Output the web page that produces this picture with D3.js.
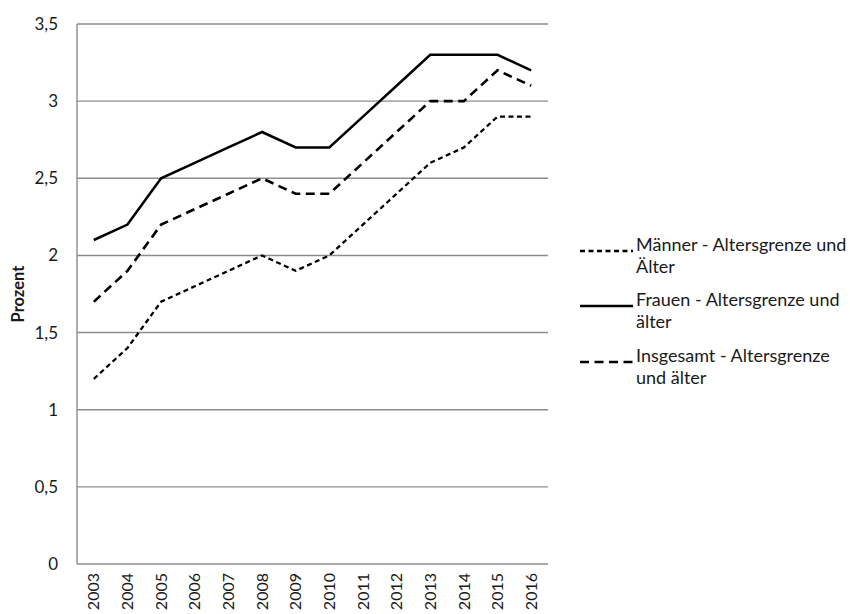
<!DOCTYPE html>
<html><head><meta charset="utf-8">
<script src="https://cdn.jsdelivr.net/npm/d3@7"></script>
<style>body{margin:0;background:#fff}svg{display:block}text{font-family:Lato,"Open Sans",sans-serif}</style>
</head><body><svg id="c" width="850" height="614"></svg>
<script>
const years = ["2003","2004","2005","2006","2007","2008","2009","2010","2011","2012","2013","2014","2015","2016"];
const maenner = [1.2,1.4,1.7,1.8,1.9,2.0,1.9,2.0,2.2,2.4,2.6,2.7,2.9,2.9];
const frauen = [2.1,2.2,2.5,2.6,2.7,2.8,2.7,2.7,2.9,3.1,3.3,3.3,3.3,3.2];
const insgesamt = [1.7,1.9,2.2,2.3,2.4,2.5,2.4,2.4,2.6,2.8,3.0,3.0,3.2,3.1];
const yTicks = [0,0.5,1,1.5,2,2.5,3,3.5];
const yTickLabels = ["0","0,5","1","1,5","2","2,5","3","3,5"];
const seriesNames = [["Männer - Altersgrenze und","Älter"],["Frauen - Altersgrenze und","älter"],["Insgesamt  - Altersgrenze","und älter"]];

const svg = d3.select("#c");
const L=77,R=548,T=24,B=564;
const x = d3.scaleBand().domain(years).range([L,R]);
const y = d3.scaleLinear().domain([0,3.5]).range([B,T]);
const grid="#8c8c8c";

svg.append("g").selectAll("line").data(yTicks).join("line")
  .attr("x1",L).attr("x2",R).attr("y1",d=>y(d)).attr("y2",d=>y(d))
  .attr("stroke",grid).attr("stroke-width",1.4);
svg.append("line").attr("x1",L).attr("x2",L).attr("y1",T).attr("y2",B).attr("stroke",grid).attr("stroke-width",1.4);

svg.append("g").selectAll("text").data(yTicks).join("text")
  .attr("x",58).attr("y",d=>y(d)).attr("dy","0.35em").attr("text-anchor","end")
  .attr("font-size",17).attr("fill","#1a1a1a").text((d,i)=>yTickLabels[i]);

svg.append("g").selectAll("text").data(years).join("text")
  .attr("transform",d=>`translate(${x(d)+x.bandwidth()/2},${B+9}) rotate(-90)`)
  .attr("dy","0.35em").attr("text-anchor","end").attr("font-size",16).attr("fill","#1a1a1a").text(d=>d);

svg.append("text").attr("transform","translate(18,294) rotate(-90)").attr("text-anchor","middle")
  .attr("dy","0.35em").attr("font-size",16.5).attr("font-weight","bold").attr("fill","#1a1a1a").text("Prozent");

const styles=[{w:2.3,dash:"5,3.5"},{w:2.5,dash:null},{w:2.6,dash:"9,5.5"}];
const data=[maenner,frauen,insgesamt];
const line=d3.line().x((d,i)=>x(years[i])+x.bandwidth()/2).y(d=>y(d));
data.forEach((s,k)=>{
  svg.append("path").attr("d",line(s)).attr("fill","none").attr("stroke","#000")
    .attr("stroke-width",styles[k].w).attr("stroke-dasharray",styles[k].dash);
});

const ly=[251,306,362];
seriesNames.forEach((n,k)=>{
  svg.append("line").attr("x1",580).attr("x2",633).attr("y1",ly[k]).attr("y2",ly[k])
    .attr("stroke","#000").attr("stroke-width",styles[k].w).attr("stroke-dasharray",styles[k].dash);
  const t=svg.append("text").attr("x",636).attr("y",ly[k]-5).attr("font-size",18).attr("fill","#1a1a1a");
  n.forEach((s,j)=>t.append("tspan").attr("x",636).attr("dy",j?22:0).attr("dominant-baseline","middle").text(s));
});
</script></body></html>
